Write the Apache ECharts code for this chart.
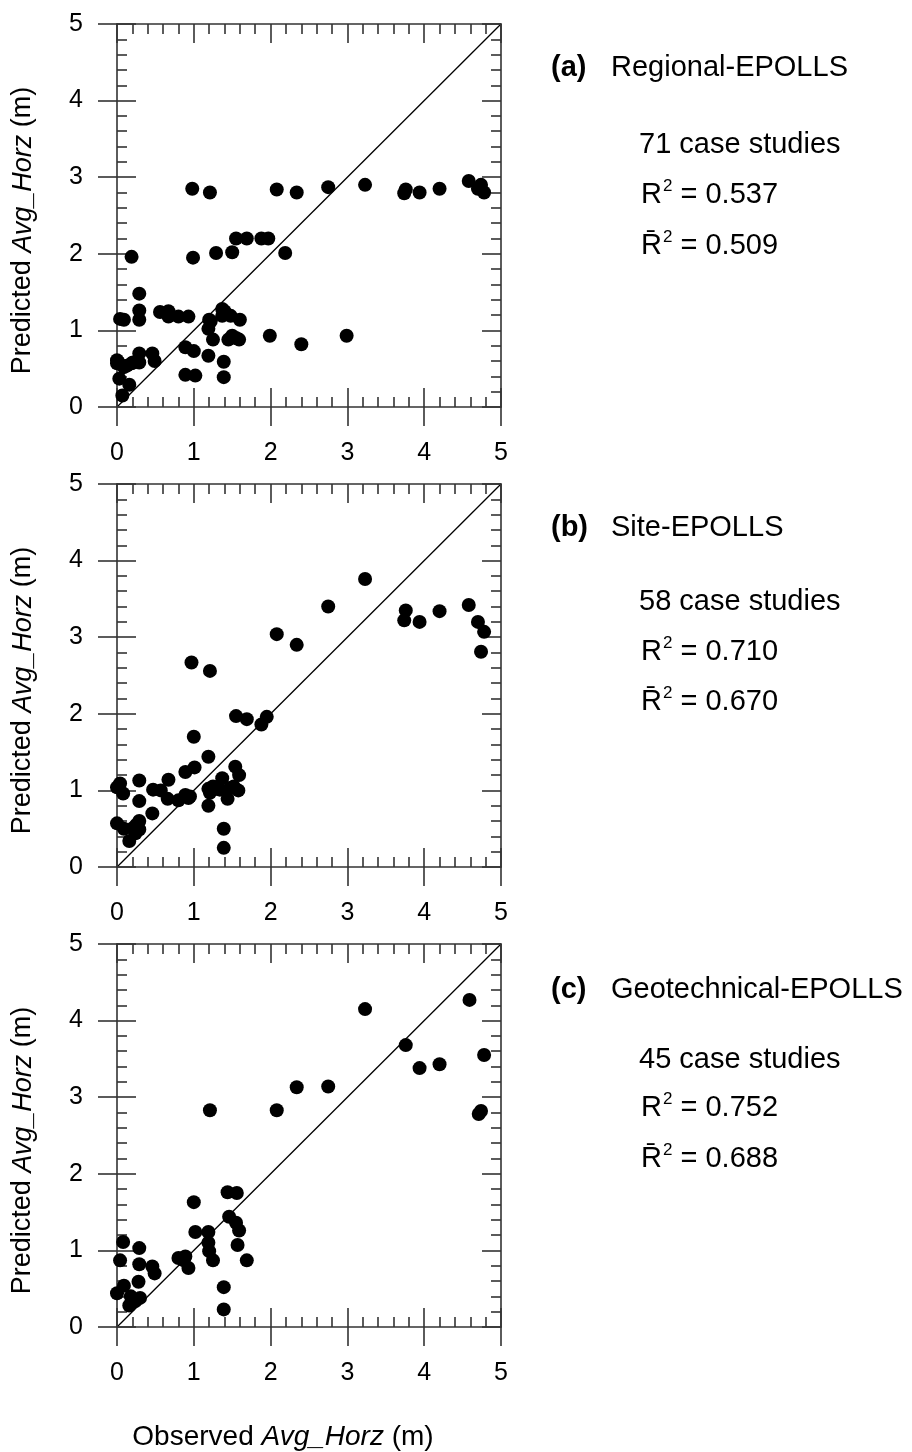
<!DOCTYPE html>
<html><head><meta charset="utf-8">
<script src="https://cdn.jsdelivr.net/npm/echarts@6/dist/echarts.min.js"></script>
<style>html,body{margin:0;padding:0;background:#fff}#c{width:912px;height:1452px}</style>
</head><body><div id="c"></div>
<script>
// ---------- data ----------
const tickValues = [0, 1, 2, 3, 4, 5];

// (a) Regional-EPOLLS
const obsA  = [0.98,1.21,2.08,2.34,2.75,3.23,3.76,3.74,3.94,4.20,4.58,4.74,4.70,4.78,
               0.19,0.99,1.29,1.50,1.55,1.69,1.88,1.97,2.19,
               0.29,0.29,0.29,0.04,0.09,0.56,0.67,0.67,0.80,0.93,
               1.20,1.19,1.25,1.37,1.37,1.48,1.60,1.45,1.50,1.59,1.99,2.40,2.99,
               0.89,1.00,1.19,1.39,0.89,1.02,1.39,
               0.00,0.00,0.09,0.19,0.29,0.29,0.46,0.49,0.03,0.16,0.07,0.21,
               0.13,1.22,1.40,1.55,0.02];
const predA = [2.85,2.80,2.84,2.80,2.87,2.90,2.84,2.79,2.80,2.85,2.95,2.90,2.85,2.80,
               1.96,1.95,2.01,2.02,2.20,2.20,2.20,2.20,2.01,
               1.48,1.26,1.14,1.15,1.14,1.24,1.25,1.18,1.18,1.18,
               1.14,1.02,0.88,1.28,1.19,1.19,1.14,0.88,0.93,0.88,0.93,0.82,0.93,
               0.78,0.73,0.67,0.59,0.42,0.41,0.39,
               0.61,0.57,0.52,0.57,0.70,0.58,0.70,0.60,0.37,0.29,0.15,0.58,
               0.54,1.12,1.25,0.90,0.58];

// (b) Site-EPOLLS
const obsB  = [3.23,2.75,3.76,3.74,3.94,4.20,4.58,4.70,4.78,4.74,2.08,2.34,0.97,1.21,
               1.55,1.69,1.95,1.88,1.00,1.19,1.01,0.89,0.67,0.29,1.54,1.59,1.37,
               0.04,0.00,0.08,0.47,0.57,0.66,0.80,0.89,0.93,0.29,
               1.19,1.25,1.21,1.34,1.47,1.44,1.58,1.19,0.46,
               0.00,0.09,0.29,0.29,0.21,0.24,0.16,1.39,1.39,
               1.30,0.25,1.52,0.95];
const predB = [3.76,3.40,3.35,3.22,3.20,3.34,3.42,3.20,3.07,2.81,3.04,2.90,2.67,2.56,
               1.97,1.93,1.96,1.86,1.70,1.44,1.30,1.24,1.14,1.13,1.31,1.20,1.16,
               1.09,1.04,0.96,1.01,1.00,0.89,0.87,0.94,0.90,0.86,
               1.02,1.05,0.97,1.01,1.03,0.89,1.00,0.80,0.70,
               0.57,0.50,0.60,0.49,0.51,0.44,0.34,0.50,0.25,
               1.02,0.55,1.05,0.92];

// (c) Geotechnical-EPOLLS
const obsC  = [3.23,4.59,3.76,4.78,3.94,4.20,2.34,2.75,1.21,2.08,4.74,4.71,
               1.44,1.56,1.00,1.46,1.55,1.59,1.02,1.19,1.19,1.20,1.25,1.57,1.69,
               0.08,0.29,0.04,0.29,0.46,0.49,0.80,0.89,0.87,0.93,
               0.28,0.09,0.00,1.39,1.39,0.18,0.30,0.16,0.24,0.20];
const predC = [4.15,4.27,3.68,3.55,3.38,3.43,3.13,3.14,2.83,2.83,2.82,2.78,
               1.76,1.75,1.63,1.44,1.36,1.26,1.24,1.24,1.10,0.99,0.87,1.07,0.87,
               1.11,1.03,0.87,0.82,0.79,0.70,0.90,0.92,0.87,0.77,
               0.59,0.54,0.44,0.52,0.23,0.40,0.38,0.28,0.34,0.36];

const panelTags  = ['(a)', '(b)', '(c)'];
const modelNames = ['Regional-EPOLLS', 'Site-EPOLLS', 'Geotechnical-EPOLLS'];
const caseCounts = [71, 58, 45];
const r2Values   = ['0.537', '0.710', '0.752'];
const r2adjValues= ['0.509', '0.670', '0.688'];
const yTitle = ['Predicted ', 'Avg_Horz', ' (m)'];
const xTitle = ['Observed ', 'Avg_Horz', ' (m)'];

// ---------- layout / style ----------
const FONT = "'Liberation Sans', Arial, Helvetica, sans-serif";
const AX = '#333';
const tops = [24, 484, 944];
const GL = 117, GW = 384, GH = 383;
const textOffsets = [[44,121,171,222],[44,118,168,218],[46,116,164,215]];
const obsList = [obsA, obsB, obsC];
const predList = [predA, predB, predC];

const grids = [], xAxes = [], yAxes = [], series = [], graphics = [];
const lineStyle = {color: AX, width: 1.6};

function baseAxis(p, pos, extra) {
  return Object.assign({
    gridIndex: p, type: 'value', position: pos,
    min: tickValues[0], max: tickValues[tickValues.length - 1], interval: 1,
    splitLine: {show: false}, minorSplitLine: {show: false},
    axisLine: {show: true, onZero: false, lineStyle: lineStyle},
    axisTick: {show: true, inside: true, length: 19, lineStyle: lineStyle},
    minorTick: {show: true, splitNumber: 5, length: 10, lineStyle: lineStyle},
    axisLabel: {show: false},
    z: 3
  }, extra);
}

const richStats = {
  r: {fontSize: 29, fontFamily: FONT, fill: '#000', lineHeight: 34},
  s: {fontSize: 17, fontFamily: FONT, fill: '#000', verticalAlign: 'top', lineHeight: 34, padding: [0, 0, 0, 1]}
};

for (let p = 0; p < 3; p++) {
  const T = tops[p];
  grids.push({left: GL, top: T, width: GW, height: GH, containLabel: false, outerBoundsMode: 'none'});
  const xi = xAxes.length, yi = yAxes.length;
  const label = {show: true, margin: 34, fontSize: 25, color: '#000', fontFamily: FONT,
                 formatter: v => String(v)};
  // x: main bottom (outside major ticks + labels), inner bottom, top
  xAxes.push(baseAxis(p, 'bottom', {
    axisTick: {show: true, inside: false, length: 19, lineStyle: lineStyle},
    minorTick: {show: false}, axisLabel: label}));
  xAxes.push(baseAxis(p, 'bottom', {axisLine: {show: false, onZero: false}}));
  xAxes.push(baseAxis(p, 'top', {}));
  // y: main left, inner left, right
  yAxes.push(baseAxis(p, 'left', {
    axisTick: {show: true, inside: false, length: 19, lineStyle: lineStyle},
    minorTick: {show: false}, axisLabel: label}));
  yAxes.push(baseAxis(p, 'left', {axisLine: {show: false, onZero: false}}));
  yAxes.push(baseAxis(p, 'right', {}));

  series.push({
    type: 'line', xAxisIndex: xi, yAxisIndex: yi,
    data: [[tickValues[0], tickValues[0]], [tickValues[5], tickValues[5]]],
    showSymbol: false, symbol: 'none', silent: true,
    lineStyle: {color: '#000', width: 1.3}, z: 2, clip: false
  });
  series.push({
    type: 'scatter', xAxisIndex: xi, yAxisIndex: yi,
    data: obsList[p].map((x, i) => [x, predList[p][i]]),
    symbol: 'circle', symbolSize: 14,
    itemStyle: {color: '#000', opacity: 1}, z: 4, clip: false
  });

  // y-axis title
  graphics.push({
    type: 'text', x: 23, y: T + GH / 2 + 15, rotation: Math.PI / 2,
    style: {
      text: '{n|' + yTitle[0] + '}{i|' + yTitle[1] + '}{n|' + yTitle[2] + '}',
      textAlign: 'center', textVerticalAlign: 'middle', align: 'center', verticalAlign: 'middle',
      rich: {n: {fontSize: 27, fontFamily: FONT, fill: '#000'},
             i: {fontSize: 27, fontFamily: FONT, fontStyle: 'italic', fill: '#000'}},
      fontSize: 27, fontFamily: FONT, fill: '#000'
    }
  });

  const o = textOffsets[p];
  const t = (x, y, text, extra) => graphics.push({
    type: 'text', x: x, y: y,
    style: Object.assign({text: text, fontSize: 29, fontFamily: FONT, fill: '#000',
      textAlign: 'left', textVerticalAlign: 'middle', align: 'left', verticalAlign: 'middle'}, extra || {})
  });
  t(551, T + o[0], panelTags[p], {fontWeight: 'bold'});
  t(611, T + o[0], modelNames[p]);
  t(639, T + o[1], caseCounts[p] + ' case studies');
  t(641, T + o[2], '{r|R}{s|2}{r| = ' + r2Values[p] + '}', {rich: richStats});
  t(641, T + o[3], '{r|R\u0304}{s|2}{r| = ' + r2adjValues[p] + '}', {rich: richStats});
}

graphics.push({
  type: 'text', x: 283, y: 1437,
  style: {
    text: '{n|' + xTitle[0] + '}{i|' + xTitle[1] + '}{n|' + xTitle[2] + '}',
    textAlign: 'center', textVerticalAlign: 'middle', align: 'center', verticalAlign: 'middle',
    rich: {n: {fontSize: 28, fontFamily: FONT, fill: '#000'},
           i: {fontSize: 28, fontFamily: FONT, fontStyle: 'italic', fill: '#000'}},
    fontSize: 28, fontFamily: FONT, fill: '#000'
  }
});

const chart = echarts.init(document.getElementById('c'), null, {renderer: 'canvas'});
chart.setOption({
  backgroundColor: '#fff',
  animation: false,
  grid: grids, xAxis: xAxes, yAxis: yAxes, series: series, graphic: graphics
});
</script></body></html>
